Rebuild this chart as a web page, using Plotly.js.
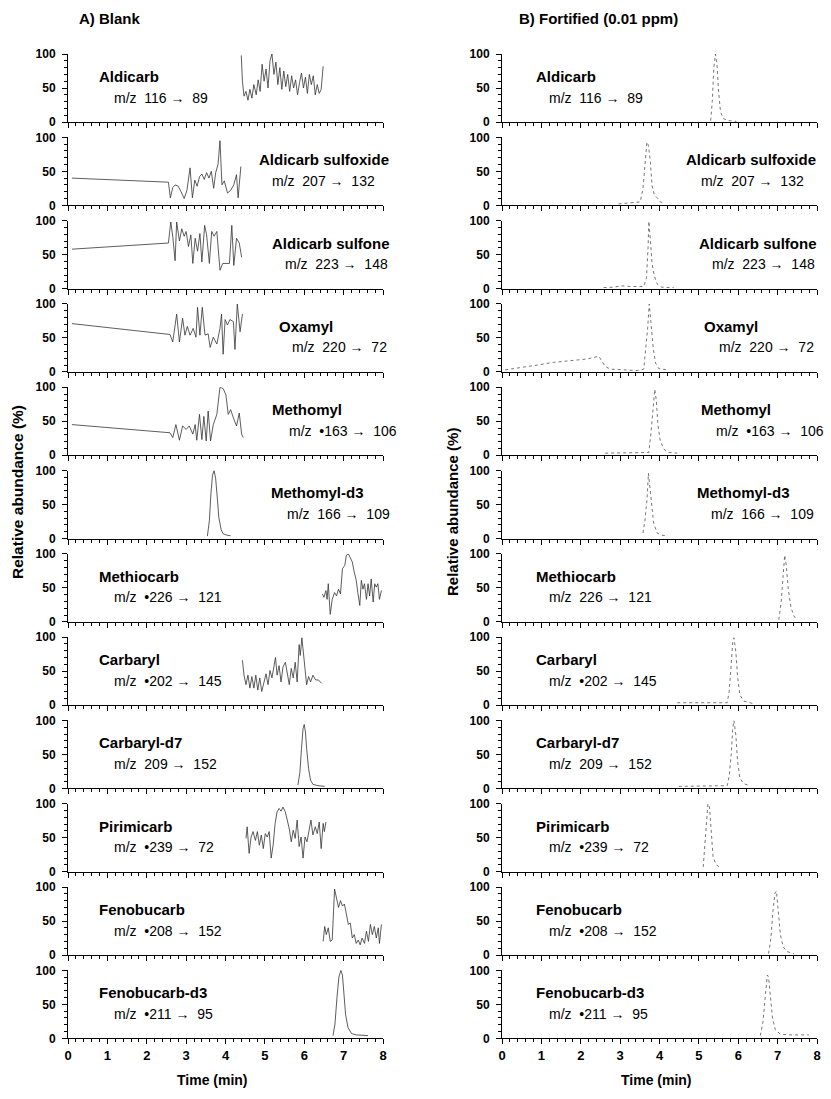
<!DOCTYPE html>
<html><head><meta charset="utf-8">
<script src="https://cdn.plot.ly/plotly-3.0.1.min.js"></script>
<style>html,body{margin:0;padding:0;background:#fff}#chart{width:831px;height:1099px}</style>
</head><body><div id="chart"></div>
<script>
// ---------- DATA ----------
const compounds = ["Aldicarb","Aldicarb sulfoxide","Aldicarb sulfone","Oxamyl","Methomyl","Methomyl-d3",
  "Methiocarb","Carbaryl","Carbaryl-d7","Pirimicarb","Fenobucarb","Fenobucarb-d3"];
const precursorBlank = ["116","207","223","220","•163","166","•226","•202","209","•239","•208","•211"];
const precursorFort  = ["116","207","223","220","•163","166","226","•202","209","•239","•208","•211"];
const productIons = ["89","132","148","72","106","109","121","145","152","72","152","95"];
const xTickLabels = ["0","1","2","3","4","5","6","7","8"];
const yTickLabels = ["0","50","100"];

// A) Blank chromatograms (time, min / relative abundance, %)
const bAldicarbT = [4.40,4.43,4.47,4.52,4.57,4.62,4.67,4.72,4.78,4.83,4.88,4.93,4.98,5.03,5.08,5.13,5.18,5.23,5.28,5.33,5.38,5.43,5.48,5.53,5.58,5.63,5.68,5.73,5.78,5.83,5.88,5.93,5.98,6.03,6.08,6.13,6.18,6.23,6.28,6.33,6.38,6.43,6.48];
const bAldicarbY = [98,60,38,45,32,48,35,55,40,62,45,85,60,78,50,90,100,70,88,55,80,48,75,52,70,45,68,50,62,40,58,72,50,66,42,70,55,68,40,55,42,48,82];
const bSulfoxideT = [0.10,2.55,2.60,2.66,2.72,2.80,2.87,2.95,3.02,3.10,3.16,3.22,3.28,3.34,3.40,3.46,3.52,3.58,3.64,3.70,3.75,3.81,3.86,3.91,3.97,4.05,4.13,4.21,4.28,4.32,4.39];
const bSulfoxideY = [40,34,11,26,30,28,20,10,22,55,11,37,28,42,46,38,48,40,50,25,48,60,95,30,36,18,22,30,45,11,57];
const bSulfoneT = [0.10,2.55,2.61,2.66,2.72,2.76,2.83,2.89,2.95,3.00,3.06,3.12,3.17,3.23,3.29,3.35,3.40,3.47,3.52,3.59,3.65,3.71,3.78,3.86,3.93,4.03,4.10,4.16,4.21,4.28,4.35,4.41];
const bSulfoneY = [58,67,98,77,41,98,70,88,77,84,62,79,37,74,55,81,39,93,79,37,84,77,84,27,37,37,37,93,34,74,67,46];
const bOxamylT = [0.10,2.59,2.66,2.76,2.83,2.91,2.97,3.03,3.10,3.18,3.25,3.29,3.35,3.41,3.48,3.56,3.61,3.69,3.78,3.86,3.90,3.94,3.99,4.05,4.11,4.20,4.24,4.30,4.37,4.43];
const bOxamylY = [71,55,44,85,44,79,54,67,54,64,51,95,54,95,54,56,36,51,41,64,85,26,77,69,77,74,33,100,59,85];
const bMethomylT = [0.10,2.59,2.66,2.74,2.83,2.91,3.00,3.08,3.17,3.23,3.27,3.34,3.40,3.45,3.51,3.56,3.62,3.69,3.78,3.86,3.94,4.01,4.07,4.13,4.20,4.28,4.35,4.41,4.45];
const bMethomylY = [45,33,26,45,22,43,38,43,31,45,22,60,23,57,21,65,21,45,60,100,98,89,60,67,55,43,62,31,26];
const bMethomylD3T = [3.54,3.59,3.63,3.67,3.71,3.75,3.79,3.83,3.89,3.94,4.03,4.13];
const bMethomylD3Y = [3.5,26,66,93,100,88,61,31,13,7,5,4];
const bMethiocarbT = [6.46,6.50,6.55,6.58,6.61,6.66,6.71,6.77,6.82,6.87,6.92,6.97,7.03,7.07,7.12,7.17,7.22,7.27,7.32,7.36,7.41,7.45,7.49,7.53,7.58,7.62,7.66,7.70,7.75,7.79,7.83,7.87,7.91,7.96];
const bMethiocarbY = [41,36,46,33,56,11,33,43,38,48,41,78,83,98,100,95,88,73,61,43,24,61,48,56,33,56,38,63,29,56,51,56,33,46];
const bCarbarylT = [4.43,4.47,4.52,4.57,4.62,4.67,4.72,4.77,4.82,4.87,4.92,4.97,5.03,5.08,5.13,5.18,5.23,5.27,5.31,5.36,5.41,5.46,5.52,5.57,5.62,5.67,5.72,5.77,5.82,5.87,5.90,5.94,5.97,6.01,6.06,6.11,6.16,6.22,6.29,6.36,6.44];
const bCarbarylY = [66,44,30,44,25,42,25,44,22,40,20,34,46,30,51,40,54,70,44,58,34,56,63,44,30,54,40,63,34,89,73,99,82,54,30,42,34,44,37,37,32];
const bCarbarylD7T = [5.84,5.89,5.93,5.97,6.00,6.03,6.06,6.11,6.16,6.22,6.35,6.52];
const bCarbarylD7Y = [5,24,59,88,94,83,59,29,12,6,4,3];
const bPirimicarbT = [4.52,4.55,4.60,4.65,4.70,4.76,4.81,4.86,4.91,4.96,5.01,5.06,5.11,5.16,5.21,5.26,5.31,5.36,5.41,5.46,5.52,5.57,5.62,5.67,5.72,5.77,5.82,5.87,5.92,5.97,6.02,6.07,6.12,6.17,6.22,6.28,6.33,6.38,6.43,6.48,6.51,6.55];
const bPirimicarbY = [49,66,27,51,59,46,59,39,54,34,56,51,59,20,39,71,88,93,89,95,88,76,63,44,61,49,76,37,51,20,51,44,59,76,54,66,56,73,34,71,59,73];
const bFenobucarbT = [6.48,6.52,6.56,6.61,6.66,6.71,6.77,6.82,6.87,6.92,6.97,7.02,7.07,7.12,7.17,7.22,7.27,7.32,7.37,7.42,7.47,7.53,7.58,7.63,7.68,7.73,7.78,7.83,7.88,7.91,7.96];
const bFenobucarbY = [20,42,30,40,20,22,97,85,70,80,72,75,57,45,47,25,30,17,22,15,25,17,35,20,45,30,42,25,40,17,45];
const bFenobucarbD3T = [6.73,6.78,6.83,6.88,6.93,6.97,7.01,7.05,7.11,7.20,7.32,7.62];
const bFenobucarbD3Y = [4,21,59,90,100,93,64,35,16,7,5,4];

// B) Fortified (0.01 ppm) chromatograms
const fAldicarbT = [5.30,5.34,5.38,5.42,5.46,5.50,5.55,5.62,5.75,5.95];
const fAldicarbY = [2,30,80,100,85,45,15,5,2,1];
const fSulfoxideT = [2.96,3.20,3.51,3.58,3.63,3.68,3.72,3.77,3.81,3.87,3.94,4.02,4.11];
const fSulfoxideY = [2,3,5,24,63,93,88,63,29,15,11,5,3];
const fSulfoneT = [2.58,2.80,3.05,3.30,3.60,3.67,3.71,3.73,3.77,3.81,3.87,3.95,4.06,4.36];
const fSulfoneY = [1.5,2,4,3,3,16,61,99,70,37,18,6,2,1.5];
const fOxamylT = [0.08,0.47,0.89,1.31,1.74,2.16,2.46,2.54,2.62,2.75,3.00,3.43,3.60,3.65,3.70,3.74,3.78,3.84,3.90,3.98,4.19];
const fOxamylY = [3,6,10,14,16,19,23,15,8,4,3,2,4,30,65,100,75,35,13,5,3];
const fMethomylT = [2.62,3.20,3.73,3.78,3.84,3.88,3.92,3.96,4.02,4.11,4.23,4.45];
const fMethomylY = [3,3,4,31,65,97,80,45,21,9,4,3];
const fMethomylD3T = [3.58,3.63,3.68,3.72,3.75,3.80,3.85,3.94,4.06,4.19];
const fMethomylD3Y = [8,26,56,96,79,46,23,8,5,3.5];
const fMethiocarbT = [7.03,7.09,7.14,7.18,7.22,7.27,7.34,7.41,7.49];
const fMethiocarbY = [3,29,68,98,83,48,21,9,2];
const fCarbarylT = [4.45,5.10,5.72,5.77,5.82,5.86,5.89,5.94,5.98,6.04,6.14,6.27,6.39];
const fCarbarylY = [3.5,3.5,3.5,20,58,92,99,78,44,15,6,3.5,2];
const fCarbarylD7T = [4.49,5.10,5.72,5.77,5.82,5.86,5.89,5.94,5.98,6.04,6.14,6.29];
const fCarbarylD7Y = [3,3,4,18,49,88,100,78,42,15,7,4];
const fPirimicarbT = [5.11,5.15,5.19,5.23,5.27,5.31,5.36,5.44,5.55];
const fPirimicarbY = [7,39,68,100,95,59,22,10,6];
const fFenobucarbT = [6.77,6.83,6.88,6.93,6.97,7.02,7.07,7.14,7.24,7.41];
const fFenobucarbY = [2,25,64,91,94,64,30,12,5,2];
const fFenobucarbD3T = [6.56,6.63,6.69,6.74,6.77,6.82,6.87,6.94,7.07,7.32,7.79];
const fFenobucarbD3Y = [4,25,64,93,90,64,30,13,6,5,5];

const blankT = [bAldicarbT,bSulfoxideT,bSulfoneT,bOxamylT,bMethomylT,bMethomylD3T,bMethiocarbT,bCarbarylT,bCarbarylD7T,bPirimicarbT,bFenobucarbT,bFenobucarbD3T];
const blankY = [bAldicarbY,bSulfoxideY,bSulfoneY,bOxamylY,bMethomylY,bMethomylD3Y,bMethiocarbY,bCarbarylY,bCarbarylD7Y,bPirimicarbY,bFenobucarbY,bFenobucarbD3Y];
const fortT = [fAldicarbT,fSulfoxideT,fSulfoneT,fOxamylT,fMethomylT,fMethomylD3T,fMethiocarbT,fCarbarylT,fCarbarylD7T,fPirimicarbT,fFenobucarbT,fFenobucarbD3T];
const fortY = [fAldicarbY,fSulfoxideY,fSulfoneY,fOxamylY,fMethomylY,fMethomylD3Y,fMethiocarbY,fCarbarylY,fCarbarylD7Y,fPirimicarbY,fFenobucarbY,fFenobucarbD3Y];

// ---------- LAYOUT ----------
const W = 831, H = 1099;
const colPx = [[68,383],[502,817]];
const firstBase = 122, period = 83.3, panelH = 68;
// label anchor (in minutes) for compound name / m/z line
const nameXLeft  = [0.73,4.79,5.13,5.30,5.13,5.11,0.73,0.73,0.73,0.73,0.73,0.73];
const mzXLeft    = [1.11,5.13,5.46,5.65,5.55,5.51,1.11,1.11,1.11,1.11,1.11,1.11];
const nameXRight = [0.80,4.61,4.94,5.08,5.00,4.89,0.80,0.80,0.80,0.80,0.80,0.80];
const mzXRight   = [1.14,5.00,5.28,5.46,5.38,5.25,1.14,1.14,1.14,1.14,1.14,1.14];

const FONT = "Liberation Sans, Arial, Helvetica, sans-serif";
const nb = "\u00a0";
const traces = [];
const layout = {
  width: W, height: H, margin: {l:0,r:0,t:0,b:0},
  paper_bgcolor: "#fff", plot_bgcolor: "#fff", showlegend: false,
  font: {family: FONT, color: "#000"},
  annotations: []
};

for (let c = 0; c < 2; c++) {
  for (let r = 0; r < 12; r++) {
    const n = c*12 + r + 1;
    const xs = n === 1 ? "" : String(n);
    const base = firstBase + period*r;
    const top = base - panelH;
    const isBottom = r === 11;
    layout["xaxis"+xs] = {
      domain: [colPx[c][0]/W, colPx[c][1]/W], anchor: "y"+xs,
      range: [0,8], tickmode: "array", tickvals: [0,1,2,3,4,5,6,7,8], ticktext: xTickLabels,
      showticklabels: isBottom, ticks: "outside", ticklen: 5, tickwidth: 1, tickcolor: "#000",
      minor: {dtick: 0.2, tick0: 0, ticks: "outside", ticklen: 3, tickwidth: 1, tickcolor: "#000", showgrid: false},
      showline: true, linecolor: "#000", linewidth: 1, showgrid: false, zeroline: false,
      tickfont: {family: FONT, size: 13, weight: "bold", color: "#000"}, fixedrange: true
    };
    layout["yaxis"+xs] = {
      domain: [1 - base/H, 1 - top/H], anchor: "x"+xs,
      range: [0,100], tickmode: "array", tickvals: [0,50,100], ticktext: yTickLabels,
      ticks: "outside", ticklen: 5, tickwidth: 1, tickcolor: "#000", ticklabelstandoff: 4,
      minor: {dtick: 10, tick0: 0, ticks: "outside", ticklen: 3, tickwidth: 1, tickcolor: "#000", showgrid: false},
      showline: true, linecolor: "#000", linewidth: 1, showgrid: false, zeroline: false,
      tickfont: {family: FONT, size: 12, weight: "bold", color: "#000"}, fixedrange: true
    };
    const isBlank = c === 0;
    traces.push({
      type: "scatter", mode: "lines",
      x: isBlank ? blankT[r] : fortT[r], y: isBlank ? blankY[r] : fortY[r],
      xaxis: "x"+xs, yaxis: "y"+xs,
      line: isBlank ? {color: "#333", width: 0.8} : {color: "#666", width: 0.9, dash: "dot"},
      hoverinfo: "skip"
    });
    const prec = isBlank ? precursorBlank[r] : precursorFort[r];
    layout.annotations.push({
      xref: "x"+xs, yref: "y"+xs, x: isBlank ? nameXLeft[r] : nameXRight[r], y: 67,
      xanchor: "left", yanchor: "middle", showarrow: false,
      text: compounds[r], font: {family: FONT, size: 15, weight: "bold", color: "#000"}
    });
    layout.annotations.push({
      xref: "x"+xs, yref: "y"+xs, x: isBlank ? mzXLeft[r] : mzXRight[r], y: 36,
      xanchor: "left", yanchor: "middle", showarrow: false,
      text: "m/z" + nb + nb + prec + nb + "→" + nb + nb + productIons[r],
      font: {family: FONT, size: 14, color: "#000"}
    });
  }
}

// column titles, axis titles
const paperAnn = (x, y, text, size, extra) => Object.assign({
  xref: "paper", yref: "paper", x: x/W, y: 1 - y/H, text: text, showarrow: false,
  font: {family: FONT, size: size, weight: "bold", color: "#000"}
}, extra || {});
layout.annotations.push(paperAnn(77, 18, "A) Blank", 15, {xanchor: "left", yanchor: "middle"}));
layout.annotations.push(paperAnn(517, 18, "B) Fortified (0.01 ppm)", 15, {xanchor: "left", yanchor: "middle"}));
layout.annotations.push(paperAnn(17, 492, "Relative abundance (%)", 15.5, {textangle: -90, xanchor: "center", yanchor: "middle"}));
layout.annotations.push(paperAnn(453, 512, "Relative abundance (%)", 15, {textangle: -90, xanchor: "center", yanchor: "middle"}));
layout.annotations.push(paperAnn(213, 1080, "Time (min)", 14, {xanchor: "center", yanchor: "middle"}));
layout.annotations.push(paperAnn(656, 1080, "Time (min)", 14, {xanchor: "center", yanchor: "middle"}));

Plotly.newPlot("chart", traces, layout, {displayModeBar: false, staticPlot: true});
</script>
</body></html>
